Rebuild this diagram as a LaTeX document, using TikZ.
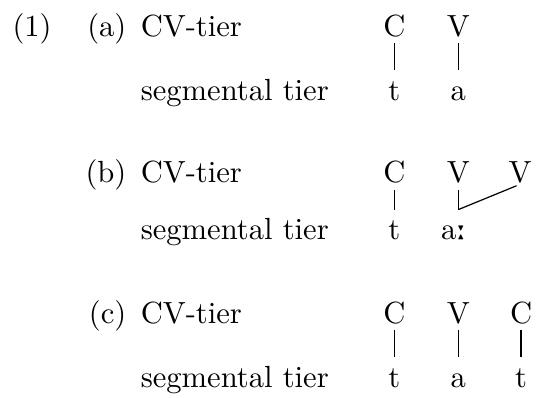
\documentclass[tikz,border=0pt]{standalone}
\usepackage{tipa}
\usetikzlibrary{calc}

\tikzset{
  tier/.style={inner sep=0pt, anchor=base},
  seg/.style={inner sep=0pt, anchor=base, text height=9.7pt, text depth=0pt},
  assoc/.style={shorten <=1.8pt},
}

\begin{document}
\begin{tikzpicture}[x=1pt,y=1pt]
    \useasboundingbox (0,0) rectangle (175.5,130);

    % Example number and row labels
    \node[tier, anchor=base west] (exnum) at (3.9,118) {(1)};
    \node[tier, anchor=base east] (laba) at (41.5,118) {(a)};
    \node[tier, anchor=base east] (labb) at (41.5,70.2) {(b)};
    \node[tier, anchor=base east] (labc) at (41.5,24.4) {(c)};

    % Tier names
    \node[tier, anchor=base west] (cva) at (45.8,118) {CV-tier};
    \node[tier, anchor=base west] (sega) at (45.8,97.3) {segmental tier};
    \node[tier, anchor=base west] (cvb) at (45.8,70.2) {CV-tier};
    \node[tier, anchor=base west] (segb) at (45.8,51.6) {segmental tier};
    \node[tier, anchor=base west] (cvc) at (45.8,24.4) {CV-tier};
    \node[tier, anchor=base west] (segc) at (45.8,3.5) {segmental tier};

    % (a) short vowel: C V over t a
    \node[tier] (Ca) at (128.9,118) {C};
    \node[tier] (Va) at (149.8,118) {V};
    \node[seg] (ta) at (128.9,97.3) {t};
    \node[seg] (aa) at (149.8,97.3) {a};
    \draw[assoc] (Ca.south) -- (ta.north);
    \draw[assoc] (Va.south) -- (aa.north);

    % (b) long vowel: one segment linked to two V slots
    \node[tier] (Cb) at (128.9,70.2) {C};
    \node[tier] (Vb1) at (149.8,70.2) {V};
    \node[tier] (Vb2) at (170.0,70.2) {V};
    \node[seg] (tb) at (128.9,51.6) {t};
    \node[seg, anchor=base west] (ab) at (144.0,51.6) {a\textlengthmark};
    \coordinate (kb) at (Vb1 |- ab.north);
    \draw[assoc] (Cb.south) -- (tb.north);
    \draw[assoc] (Vb1.south) -- (kb);
    \draw[shorten >=1.3pt] (kb) -- (Vb2.south);

    % (c) closed syllable: C V C over t a t
    \node[tier] (Cc1) at (128.9,24.4) {C};
    \node[tier] (Vc) at (149.8,24.4) {V};
    \node[tier] (Cc2) at (170.3,24.4) {C};
    \node[seg] (tc1) at (128.9,3.5) {t};
    \node[seg] (ac) at (149.8,3.5) {a};
    \node[seg] (tc2) at (170.3,3.5) {t};
    \draw[assoc] (Cc1.south) -- (tc1.north);
    \draw[assoc] (Vc.south) -- (ac.north);
    \draw[assoc] (Cc2.south) -- (tc2.north);
\end{tikzpicture}
\end{document}
